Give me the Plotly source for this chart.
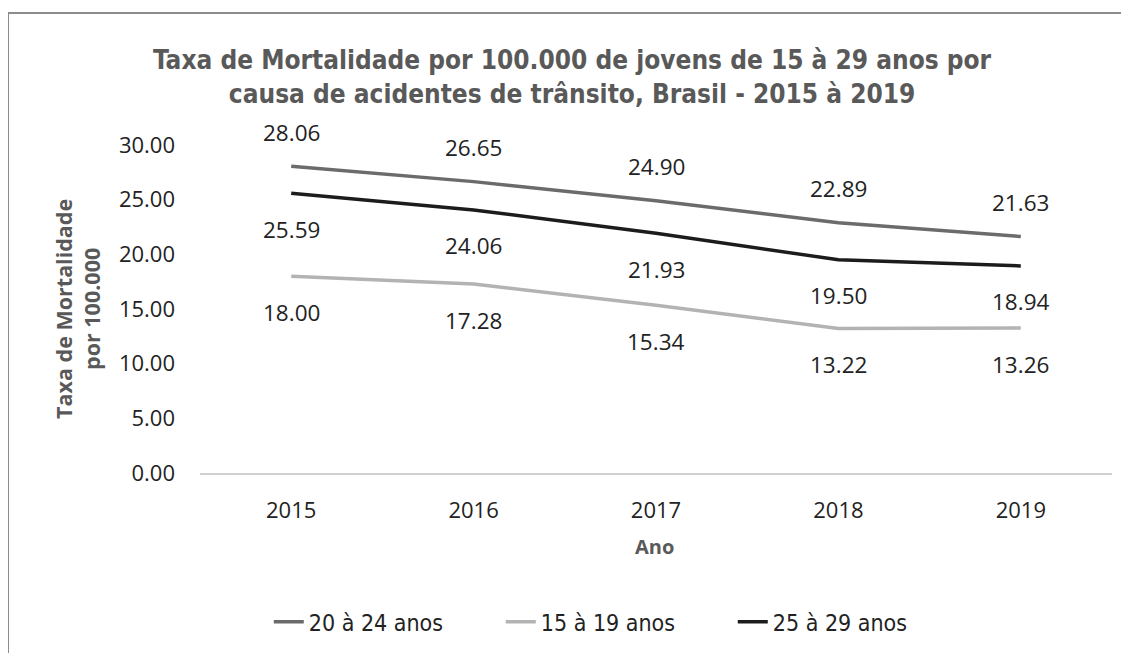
import plotly.graph_objects as go

years = ["2015", "2016", "2017", "2018", "2019"]
series_names = ["20 à 24 anos", "15 à 19 anos", "25 à 29 anos"]
v_20_24 = [28.06, 26.65, 24.90, 22.89, 21.63]
v_15_19 = [18.00, 17.28, 15.34, 13.22, 13.26]
v_25_29 = [25.59, 24.06, 21.93, 19.50, 18.94]
y_ticks = [0, 5, 10, 15, 20, 25, 30]

title_text = "Taxa de Mortalidade por 100.000 de jovens de 15 à 29 anos por<br>causa de acidentes de trânsito, Brasil - 2015 à 2019"

colors = ["#6b6b6b", "#b3b3b3", "#1c1c1c"]
label_shift = [34, -36, -36]
values = [v_20_24, v_15_19, v_25_29]

NARROW = "DejaVu Sans Condensed, Liberation Sans Narrow, sans-serif"
SANS = "Open Sans, Noto Sans, sans-serif"

fig = go.Figure()
for name, vals, col in zip(series_names, values, colors):
    fig.add_trace(go.Scatter(x=years, y=vals, name=name, mode="lines",
                             line=dict(color=col, width=3.5)))

annotations = []
for vals, sh in zip(values, label_shift):
    for i, v in enumerate(vals):
        annotations.append(dict(x=i, y=v, xref="x", yref="y", text=f"{v:.2f}",
                                showarrow=False, yshift=sh,
                                font=dict(family=SANS, size=22.5, color="#222222")))

annotations.append(dict(x=0.498, y=-0.2256, xref="paper", yref="paper", text="<b>Ano</b>",
                        showarrow=False, xanchor="center", yanchor="middle",
                        font=dict(family=SANS, size=20, color="#595959")))
annotations.append(dict(x=-0.135, y=0.5, xref="paper", yref="paper",
                        text="<b>Taxa de Mortalidade<br>por 100.000</b>", textangle=-90,
                        showarrow=False, xanchor="center", yanchor="middle",
                        font=dict(family=SANS, size=21.5, color="#595959")))
annotations.append(dict(x=0.408, y=1.207, xref="paper", yref="paper", text="<b>" + title_text + "</b>",
                        showarrow=False, xanchor="center", yanchor="middle",
                        font=dict(family=NARROW, size=26, color="#595959")))

fig.update_layout(
    width=1129, height=653,
    margin=dict(l=192, r=25, t=137, b=188),
    paper_bgcolor="white", plot_bgcolor="white",
    showlegend=True,
    legend=dict(orientation="h", x=0.457, xanchor="center", y=-0.454, yanchor="middle",
                font=dict(family=NARROW, size=23, color="#222222"), itemwidth=30,
                entrywidth=187, entrywidthmode="pixels"),
    annotations=annotations,
    shapes=[dict(type="rect", xref="paper", yref="paper", x0=-0.2105, x1=1.05, y0=-0.6, y1=1.4024,
                 line=dict(color="#8c8c8c", width=2), fillcolor="rgba(0,0,0,0)", layer="below")],
)
fig.update_xaxes(type="category", range=[-0.5, 4.5], showgrid=False, zeroline=False,
                 showline=True, linecolor="#d0d0d0", linewidth=2,
                 ticks="", ticklabelstandoff=17,
                 tickfont=dict(family=SANS, size=22, color="#222222"))
fig.update_yaxes(range=[0, 30], tickvals=y_ticks, ticktext=[f"{t:.2f}" for t in y_ticks],
                 showgrid=False, zeroline=False, showline=False, ticks="", ticklabelstandoff=24,
                 tickfont=dict(family=SANS, size=22, color="#222222"))

fig.write_html("out.html")
